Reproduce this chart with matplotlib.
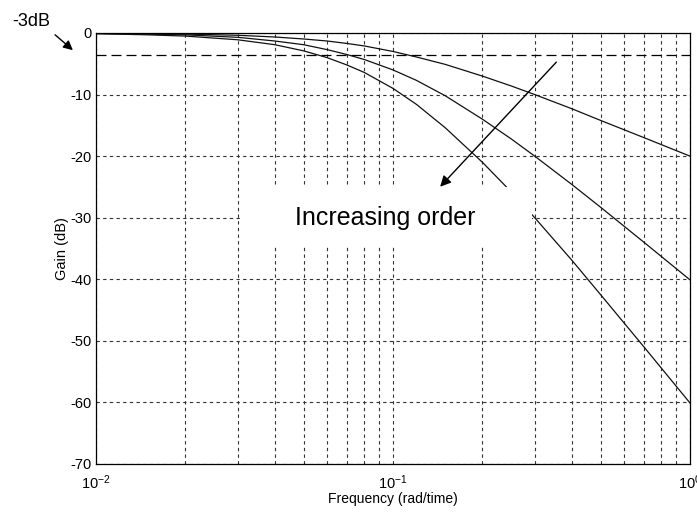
import matplotlib
matplotlib.use('Agg')
import matplotlib.pyplot as plt
from matplotlib.patches import Rectangle

plt.rcParams['font.family'] = ['Liberation Sans', 'DejaVu Sans']
plt.rcParams['axes.unicode_minus'] = False

# frequencies (rad/time) and gains (dB)
freq = [0.01, 0.015, 0.02, 0.03, 0.04, 0.05, 0.06, 0.07, 0.08, 0.1,
        0.12, 0.15, 0.2, 0.25, 0.3, 0.4, 0.5, 0.7, 1.0]
gain_order1 = [-0.04, -0.1, -0.17, -0.37, -0.65, -0.97, -1.3, -1.7, -2.1, -3.0,
               -3.9, -5.1, -7.0, -8.6, -10.0, -12.3, -14.2, -17.0, -20.0]
gain_order2 = [-0.1, -0.2, -0.3, -0.7, -1.3, -1.9, -2.7, -3.5, -4.3, -6.0,
               -7.7, -10.2, -14.0, -17.2, -20.0, -24.6, -28.3, -34.0, -40.1]
gain_order3 = [-0.1, -0.3, -0.5, -1.1, -1.9, -2.9, -4.0, -5.2, -6.4, -9.0,
               -11.6, -15.4, -21.0, -25.8, -30.0, -36.9, -42.5, -51.0, -60.1]
cutoff_line = -3.5
y_ticks = [0, -10, -20, -30, -40, -50, -60, -70]

fig = plt.figure(figsize=(6.97, 5.14), dpi=100)
ax = fig.add_axes([0.1377, 0.0973, 0.8523, 0.8385])

for g in (gain_order1, gain_order2, gain_order3):
    ax.plot(freq, g, color='#111111', linewidth=0.9, zorder=2)

# -3dB reference line (long dashes)
ax.axhline(cutoff_line, color='k', linewidth=0.9, linestyle=(0, (8, 4)), zorder=2)

ax.set_xscale('log')
ax.set_xlim(0.01, 1)
ax.set_ylim(-70, 0)
ax.set_yticks(y_ticks)

ax.grid(True, which='both', color='0.2', linewidth=0.8, linestyle=(0, (3, 3)))
ax.tick_params(which='both', length=0, labelsize=10.5)
ax.tick_params(axis='x', pad=7)
ax.tick_params(axis='y', pad=3)
for s in ax.spines.values():
    s.set_linewidth(0.9)

ax.set_xlabel('Frequency (rad/time)', fontsize=10, labelpad=0)
ax.set_ylabel('Gain (dB)', fontsize=10.5, labelpad=1)

# white patch behind the annotation text
ax.add_patch(Rectangle((0.0305, -34.8), 0.294 - 0.0305, 9.8,
                       facecolor='white', edgecolor='none', zorder=3))
ax.text(0.094, -30.0, 'Increasing order', fontsize=18, ha='center', va='center', zorder=4)
ax.annotate('', xy=(0.142, -25.3), xytext=(0.36, -4.4),
            arrowprops=dict(arrowstyle='-|>', color='k', lw=1.0, mutation_scale=16),
            zorder=5)

# -3dB label outside the axes
fig.text(31 / 697, 1 - 21 / 514, '-3dB', fontsize=13, ha='center', va='center')
ax.annotate('', xy=(75 / 697, 1 - 52 / 514), xytext=(53 / 697, 1 - 33 / 514),
            xycoords='figure fraction', textcoords='figure fraction',
            arrowprops=dict(arrowstyle='-|>', color='k', lw=1.0, mutation_scale=14))

plt.savefig('out.png', dpi=100)
